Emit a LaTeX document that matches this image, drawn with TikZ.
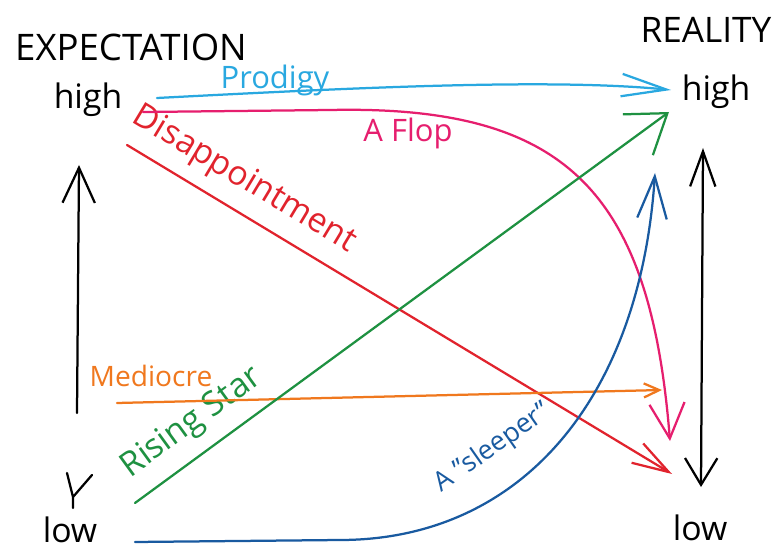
\documentclass[tikz,border=0pt]{standalone}
\usepackage{fontspec}
\setmainfont{Open Sans}
\usetikzlibrary{arrows.meta}
\definecolor{prodigyblue}{HTML}{29A8E0}
\definecolor{floppink}{HTML}{E61E6E}
\definecolor{letdownred}{HTML}{E1232D}
\definecolor{midorange}{HTML}{F0781E}
\definecolor{stargreen}{HTML}{1E9141}
\definecolor{sleeperblue}{HTML}{195AA0}
\begin{document}
\begin{tikzpicture}[x=0.025cm, y=-0.025cm,
    pen/.style={line width=1.6pt, line cap=round, line join=round},
    barb/.style 2 args={pen, -{Straight Barb[length=#1pt, width=#2pt]}},
    hand/.style={inner sep=0pt, font=\fontsize{#1}{#1}\selectfont}]
    \fill[white] (0,0) rectangle (782,556);
    \useasboundingbox (0,0) rectangle (782,556);
    \node[hand=26] (expectation) at (131,47) {EXPECTATION};
    \node[hand=24] (highL) at (88,100) {high};
    \node[hand=25] (reality) at (706,30) {REALITY};
    \node[hand=24] (highR) at (716,92) {high};
    \node[hand=24] (lowL) at (70,530) {low};
    \node[hand=24] (lowR) at (700,528) {low};
    \node[hand=22, prodigyblue] (prodigy) at (275,80) {Prodigy};
    \node[hand=22, floppink] (flop) at (408,133) {A Flop};
    \node[hand=24, letdownred, rotate=-31] (letdown) at (244,180) {Disappointment};
    \node[hand=20, midorange] (mediocre) at (151,376) {Mediocre};
    \node[hand=24, stargreen, rotate=36] (rising) at (192,423) {Rising Star};
    \node[hand=19, sleeperblue, rotate=35] (sleeper) at (493,448) {A "sleeper"};
    \coordinate (axisLlow) at (77,413);
    \coordinate (axisLhigh) at (79,165);
    \coordinate (axisRhigh) at (703,148);
    \coordinate (axisRlow) at (701,487);
    \coordinate (prodA) at (157,98);
    \coordinate (prodB) at (671,90);
    \coordinate (flopA) at (143,112);
    \coordinate (flopB) at (330,110);
    \coordinate (flopC) at (670,441);
    \coordinate (letdownA) at (127,145);
    \coordinate (letdownB) at (672,474);
    \coordinate (medA) at (117,403);
    \coordinate (medB) at (662,390);
    \coordinate (risingA) at (135,503);
    \coordinate (risingB) at (669,112);
    \coordinate (sleepA) at (135,542);
    \coordinate (sleepB) at (340,540);
    \coordinate (sleepC) at (655,173);
    \draw[barb={25}{23}] (axisLlow) -- (axisLhigh);
    \draw[pen, {Straight Barb[length=25pt, width=18pt]}-{Straight Barb[length=19pt, width=23pt]}] (axisRhigh) -- (axisRlow);
    \draw[pen] (67,473) -- (73,497) -- (92,475) (73,497) -- (73,508);
    \draw[barb={32}{16}, prodigyblue] (prodA) .. controls (350,88) and (550,78) .. (prodB);
    \draw[barb={25}{25}, floppink] (flopA) -- (flopB) .. controls (565,105) and (650,190) .. (flopC);
    \draw[barb={26}{16}, letdownred] (letdownA) -- (letdownB);
    \draw[barb={11}{10}, midorange] (medA) -- (medB);
    \draw[barb={26}{36}, stargreen] (risingA) -- (risingB);
    \draw[barb={30}{21}, sleeperblue] (sleepA) -- (sleepB) .. controls (520,540) and (640,400) .. (sleepC);
\end{tikzpicture}
\end{document}
